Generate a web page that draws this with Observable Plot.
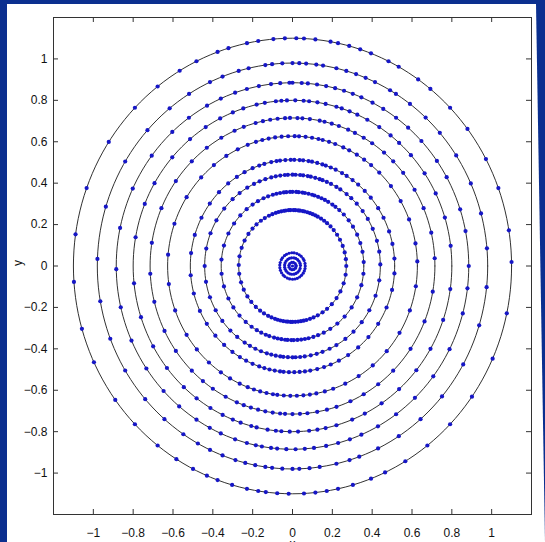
<!DOCTYPE html>
<html><head><meta charset="utf-8">
<script src="https://cdn.jsdelivr.net/npm/d3@7"></script>
<script src="https://cdn.jsdelivr.net/npm/@observablehq/plot@0.6"></script>
<style>
html,body{margin:0;padding:0;background:#0b2f8f;width:545px;height:542px;overflow:hidden}
#panel{position:absolute;left:0;top:0;width:545px;height:542px;background:#fff;clip-path:polygon(7px 4px,536px 4px,545px 542px,7px 542px)}
#chart{position:absolute;left:0;top:0}
</style></head><body><div id="panel"></div><div id="chart"></div>
<script>
// Ring radii (data units)
const ringRadii = [1.10, 0.98, 0.885, 0.80, 0.715, 0.627, 0.513, 0.441, 0.358, 0.27, 0.064, 0.04, 0.018, 0];

// Angular positions (degrees) of the marker points on each ring
const ring1 = [1, 9, 20, 28, 37, 44, 51, 55, 61, 64, 69, 72, 75, 78, 80, 84, 87, 89, 92, 95, 99, 102, 107, 110, 116, 121, 128, 136, 147, 160, 172, 184, 196, 205, 216, 224, 232, 238, 243, 247, 250, 254, 258, 261, 263, 266, 269, 273, 276, 279, 282, 286, 291, 295, 301, 308, 316, 325, 336, 348];
const ring2 = [5, 15, 24, 33, 41, 47, 53, 58, 60, 65, 68, 71, 74, 77, 81, 83, 86, 88, 90, 93, 96, 98, 103, 106, 111, 115, 122, 129, 138, 149, 163, 178, 190, 201, 211, 221, 229, 236, 241, 245, 249, 253, 256, 259, 262, 264, 267, 270, 272, 275, 278, 283, 287, 290, 296, 303, 311, 320, 331, 343, 354];
const ring3 = [0, 11, 18, 29, 35, 43, 49, 54, 59, 63, 67, 70, 73, 76, 79, 82, 85, 87, 90, 91, 94, 97, 101, 105, 109, 114, 119, 126, 133, 143, 155, 168, 181, 193, 204, 214, 223, 230, 237, 242, 246, 251, 255, 258, 260, 263, 265, 268, 271, 274, 277, 281, 285, 289, 293, 299, 306, 314, 323, 333, 345, 353];
const ring4 = [7, 17, 26, 34, 42, 48, 52, 57, 62, 66, 69, 72, 74, 78, 81, 84, 86, 89, 92, 94, 96, 100, 103, 108, 112, 117, 123, 130, 139, 150, 158, 170, 186, 198, 209, 218, 227, 233, 239, 244, 248, 251, 255, 257, 261, 264, 266, 269, 272, 276, 279, 282, 286, 292, 297, 304, 312, 321, 330, 341, 352];
const ring5 = [3, 13, 23, 31, 39, 45, 50, 56, 60, 64, 67, 71, 74, 77, 79, 83, 86, 88, 91, 93, 96, 99, 102, 105, 110, 114, 120, 127, 135, 145, 157, 171, 183, 194, 206, 215, 225, 231, 236, 242, 247, 250, 253, 256, 259, 262, 265, 267, 270, 273, 276, 280, 284, 288, 294, 300, 307, 315, 326, 338, 350];
const ring6 = [2, 10, 21, 30, 38, 46, 51, 55, 59, 63, 66, 70, 73, 76, 78, 81, 84, 87, 89, 92, 95, 98, 101, 104, 107, 111, 116, 122, 129, 137, 148, 161, 175, 188, 200, 212, 220, 228, 235, 240, 245, 249, 252, 255, 258, 261, 263, 266, 269, 272, 275, 278, 281, 285, 289, 295, 302, 310, 319, 329, 340, 351];
const ring7 = [4, 12, 19, 27, 33, 40, 45, 50, 54, 58, 61, 65, 68, 71, 73, 76, 79, 81, 84, 86, 89, 91, 94, 97, 99, 102, 106, 109, 113, 118, 123, 129, 136, 144, 153, 163, 173, 185, 195, 205, 213, 221, 228, 234, 239, 243, 247, 251, 254, 257, 260, 263, 265, 268, 271, 274, 277, 280, 284, 288, 292, 297, 303, 310, 318, 327, 337, 347, 356];
const ring8 = [1, 9, 16, 24, 31, 37, 43, 48, 52, 57, 60, 64, 67, 70, 72, 75, 78, 80, 83, 85, 88, 90, 93, 95, 98, 101, 104, 108, 112, 116, 121, 127, 133, 141, 150, 159, 169, 180, 190, 200, 209, 217, 225, 231, 237, 241, 245, 249, 253, 256, 259, 262, 264, 267, 270, 272, 275, 278, 282, 286, 290, 295, 300, 307, 314, 322, 331, 341, 351];
const ring9 = [3, 11, 18, 25, 32, 38, 44, 49, 53, 56, 60, 63, 66, 69, 72, 74, 77, 80, 82, 85, 87, 90, 92, 95, 97, 100, 103, 106, 110, 114, 119, 124, 130, 137, 145, 154, 164, 175, 186, 196, 206, 214, 222, 229, 235, 240, 244, 248, 251, 255, 258, 261, 264, 266, 269, 271, 274, 277, 280, 283, 287, 291, 296, 302, 309, 317, 326, 335, 345, 354];
const ring10 = [0, 7, 14, 21, 28, 34, 40, 45, 50, 54, 58, 62, 65, 68, 71, 74, 77, 79, 82, 84, 87, 89, 92, 94, 97, 99, 102, 105, 108, 112, 116, 121, 126, 132, 138, 145, 153, 161, 170, 179, 188, 197, 205, 213, 220, 227, 233, 238, 243, 247, 251, 254, 257, 260, 263, 265, 268, 270, 273, 276, 279, 282, 285, 289, 293, 298, 304, 310, 317, 325, 333, 342, 351];
const ring11 = [0, 11, 25, 34, 47, 58, 70, 83, 93, 106, 118, 129, 142, 151, 165, 176, 188, 199, 211, 224, 233, 246, 257, 270, 281, 292, 304, 315, 327, 338, 349];
const ring12 = [4, 19, 35, 50, 66, 80, 97, 112, 126, 143, 158, 173, 189, 204, 219, 235, 250, 264, 281, 296, 311, 327, 343];
const ring13 = [10, 42, 75, 103, 138, 170, 199, 231, 262, 293, 325, 352];
const ring14 = [0];
const ringAngles = [ring1, ring2, ring3, ring4, ring5, ring6, ring7, ring8, ring9, ring10, ring11, ring12, ring13, ring14];

// Tick values and labels
const xTicks = [-1, -0.8, -0.6, -0.4, -0.2, 0, 0.2, 0.4, 0.6, 0.8, 1];
const yTicks = [-1, -0.8, -0.6, -0.4, -0.2, 0, 0.2, 0.4, 0.6, 0.8, 1];
const xLabel = "x";
const yLabel = "y";
const domain = [-1.2, 1.2];

// Build tables
const rad = Math.PI / 180;
const points = [];
ringAngles.forEach((angles, i) => {
  const r = ringRadii[i];
  angles.forEach(a => points.push({ring: i, r, x: r * Math.cos(a * rad), y: r * Math.sin(a * rad)}));
});
const outline = [];
ringRadii.forEach((r, i) => {
  if (r > 0) d3.range(0, 361, 2).forEach(a => outline.push({ring: i, x: r * Math.cos(a * rad), y: r * Math.sin(a * rad)}));
});

const fmt = d => String(Math.round(d * 10) / 10).replace("-", "\u2212");
const ink = "#333";
const blue = "#1616c6";

const chart = Plot.plot({
  width: 545, height: 542,
  marginLeft: 53, marginRight: 14, marginTop: 17, marginBottom: 28,
  style: {background: "transparent", fontFamily: "'Liberation Sans', Arial, sans-serif", fontSize: "12px", color: "#111"},
  x: {domain},
  y: {domain},
  marks: [
    Plot.line(outline, {x: "x", y: "y", z: "ring", stroke: "#1a1a1a", strokeWidth: 0.9}),
    Plot.dot(points, {filter: d => d.r > 0.2, x: "x", y: "y", r: 2.1, fill: blue}),
    Plot.dot(points, {filter: d => d.r <= 0.2, x: "x", y: "y", r: 1.6, fill: blue}),
    Plot.frame({stroke: ink}),
    Plot.ruleX(xTicks, {x: d => d, y1: domain[0], y2: domain[0], insetTop: -5, stroke: ink}),
    Plot.ruleX(xTicks, {x: d => d, y1: domain[1], y2: domain[1], insetBottom: -5, stroke: ink}),
    Plot.ruleY(yTicks, {y: d => d, x1: domain[0], x2: domain[0], insetRight: -5, stroke: ink}),
    Plot.ruleY(yTicks, {y: d => d, x1: domain[1], x2: domain[1], insetLeft: -5, stroke: ink}),
    Plot.axisX(xTicks, {anchor: "bottom", tickSize: 0, tickPadding: 14, tickFormat: fmt, label: null}),
    Plot.axisY(yTicks, {anchor: "left", tickSize: 0, tickPadding: 6, tickFormat: fmt, label: null}),
    Plot.text([xLabel], {frameAnchor: "bottom", dy: 25, lineAnchor: "top", text: d => d}),
    Plot.text([yLabel], {frameAnchor: "left", dx: -35, rotate: -90, text: d => d})
  ]
});
document.getElementById("chart").appendChild(chart);
</script></body></html>
